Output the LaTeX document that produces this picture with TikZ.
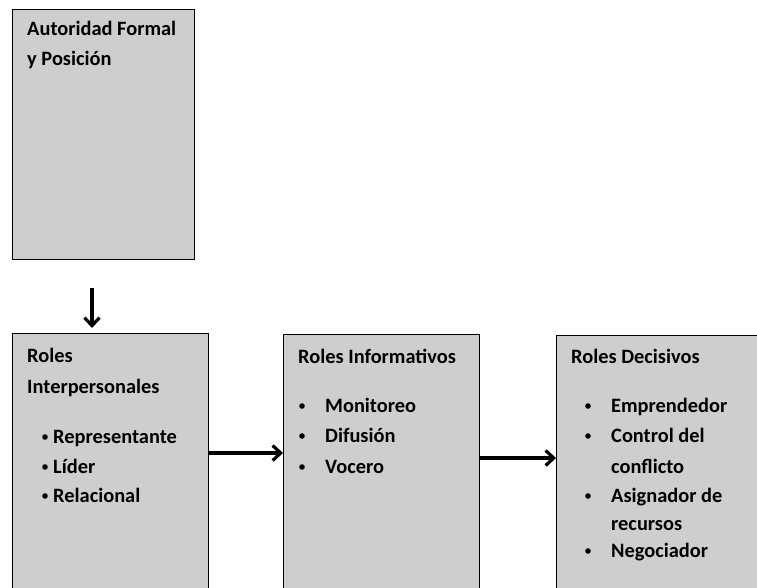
\documentclass[tikz,border=0pt]{standalone}
\usepackage{fontspec}
\setmainfont{Carlito}
\usetikzlibrary{arrows.meta}
\definecolor{boxgray}{RGB}{206,206,206}
\begin{document}
\begin{tikzpicture}[x=1pt,y=-1pt,
  panel/.style={draw=black,line width=1.4pt,fill=boxgray},
  txt/.style={anchor=base west,inner sep=0pt,font=\fontsize{20.4}{24}\selectfont\bfseries},
  bul/.style={circle,fill=black,inner sep=0pt,minimum size=5.6pt},
  conn/.style={line width=3.4pt,-{Straight Barb[length=8pt,width=15pt,line width=3.2pt]}}]
\useasboundingbox (0,0) rectangle (757,587);
\begin{scope}
\clip (0,0) rectangle (757,587);
% boxes
\node[panel,minimum width=182pt,minimum height=250pt,anchor=north west,inner sep=0pt] (top) at (12,9) {};
\node[panel,minimum width=196pt,minimum height=270pt,anchor=north west,inner sep=0pt] (b1) at (12,333) {};
\node[panel,minimum width=196pt,minimum height=270pt,anchor=north west,inner sep=0pt] (b2) at (283,334) {};
\node[panel,minimum width=220pt,minimum height=270pt,anchor=north west,inner sep=0pt] (b3) at (556,335) {};
\end{scope}
% top box text
\node[txt] (t1) at (27,35) {Autoridad Formal};
\node[txt] (t2) at (27,65) {y Posición};
% box 1
\node[txt] (r1) at (27,362) {Roles};
\node[txt] (r2) at (27,393) {Interpersonales};
\node[bul] (r3b) at (45,437) {};
\node[txt] (r3) at (53,443) {Representante};
\node[bul] (r4b) at (45,467) {};
\node[txt] (r4) at (53,473) {Líder};
\node[bul] (r5b) at (45,496) {};
\node[txt] (r5) at (53,502) {Relacional};
% box 2
\node[txt] (i0) at (298,363) {Roles Informativos};
\node[bul] (i1b) at (302,406) {};
\node[txt] (i1) at (325,412) {Monitoreo};
\node[bul] (i2b) at (302,436) {};
\node[txt] (i2) at (325,442) {Difusión};
\node[bul] (i3b) at (302,467) {};
\node[txt] (i3) at (325,473) {Vocero};
% box 3
\node[txt] (d0) at (571,363) {Roles Decisivos};
\node[bul] (d1b) at (588,406) {};
\node[txt] (d1) at (611,412) {Emprendedor};
\node[bul] (d2b) at (588,436) {};
\node[txt] (d2) at (611,442) {Control del};
\node[txt] (d2c) at (611,473) {conflicto};
\node[bul] (d3b) at (588,496) {};
\node[txt] (d3) at (611,502) {Asignador de};
\node[txt] (d3c) at (611,530) {recursos};
\node[bul] (d4b) at (588,551) {};
\node[txt] (d4) at (611,557) {Negociador};
% connectors
\coordinate (a0) at (92,288);
\coordinate (a1) at (92,328);
\draw[conn] (a0) -- (a1);
\draw[conn] (b1.east |- 0,453) -- (b2.west |- 0,453);
\draw[conn] (b2.east |- 0,458) -- (b3.west |- 0,458);
\end{tikzpicture}
\end{document}
